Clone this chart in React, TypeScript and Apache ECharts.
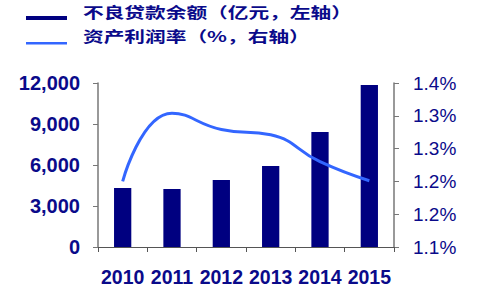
import React, { useEffect, useRef } from "react";
import * as echarts from "echarts";

const years = ["2010", "2011", "2012", "2013", "2014", "2015"];
const nplBalance = [4317, 4244, 4902, 5927, 8415, 11854];
const roa = [1.2, 1.304, 1.279, 1.271, 1.23, 1.201];
const legendNames = ["不良贷款余额（亿元，左轴）", "资产利润率（%，右轴）"];

const NAVY = "#000080";
const BLUE = "#3366ff";
const TEXT = "#0a0a8a";

export default function App() {
  const ref = useRef<HTMLDivElement>(null);
  useEffect(() => {
    if (!ref.current) return;
    const chart = echarts.init(ref.current, null, { renderer: "svg" });
    chart.setOption({
      animation: false,
      backgroundColor: "#ffffff",
      grid: { left: 98, right: 87, top: 83, bottom: 55 },
      graphic: [
        { type: "rect", shape: { x: 26, y: 16, width: 41, height: 4 }, style: { fill: NAVY } },
        { type: "rect", shape: { x: 26, y: 42, width: 41, height: 2.5 }, style: { fill: BLUE } },
        {
          type: "text", x: 83, y: 11, scaleX: 1.38,
          style: { text: legendNames[0], fill: TEXT, font: "bold 15px 'Noto Sans CJK SC'", verticalAlign: "middle" },
        },
        {
          type: "text", x: 83, y: 35, scaleX: 1.38,
          style: { text: legendNames[1], fill: TEXT, font: "bold 15px 'Noto Sans CJK SC'", verticalAlign: "middle" },
        },
      ],
      xAxis: {
        type: "category",
        data: years,
        axisLine: { lineStyle: { color: "#555", width: 1 } },
        axisTick: { show: true, length: 5, alignWithLabel: false, lineStyle: { color: "#555" } },
        axisLabel: {
          interval: 0, color: TEXT, fontWeight: "bold", fontSize: 19.5,
          fontFamily: "Liberation Sans, Arial", margin: 20,
        },
      },
      yAxis: [
        {
          type: "value",
          min: 0,
          max: 12000,
          interval: 3000,
          splitLine: { show: false },
          axisLine: { show: true, lineStyle: { color: "#777", width: 1.5 } },
          axisTick: { show: true, length: 5, lineStyle: { color: "#777" } },
          axisLabel: {
            color: TEXT, fontWeight: "bold", fontSize: 20, fontFamily: "Liberation Sans, Arial", margin: 18,
            formatter: (v: number) => v.toLocaleString("en-US"),
          },
        },
        {
          type: "value",
          min: 1.1,
          max: 1.35,
          interval: 0.05,
          position: "right",
          splitLine: { show: false },
          axisLine: { show: true, lineStyle: { color: "#777", width: 1.5 } },
          axisTick: { show: true, length: 5, lineStyle: { color: "#777" } },
          axisLabel: {
            color: TEXT, fontSize: 19, fontFamily: "Liberation Sans, Arial", margin: 19,
            formatter: (v: number) => (Math.round(v * 10 + 1e-6) / 10).toFixed(1) + "%",
          },
        },
      ],
      series: [
        {
          name: legendNames[0],
          type: "bar",
          data: nplBalance,
          barWidth: "35%",
          itemStyle: { color: NAVY },
          yAxisIndex: 0,
        },
        {
          name: legendNames[1],
          type: "line",
          data: roa,
          yAxisIndex: 1,
          smooth: 0.5,
          symbol: "none",
          lineStyle: { color: BLUE, width: 3 },
        },
      ],
    });
    return () => chart.dispose();
  }, []);
  return <div ref={ref} style={{ width: 481, height: 302, position: "absolute", left: 0, top: 0 }} />;
}
